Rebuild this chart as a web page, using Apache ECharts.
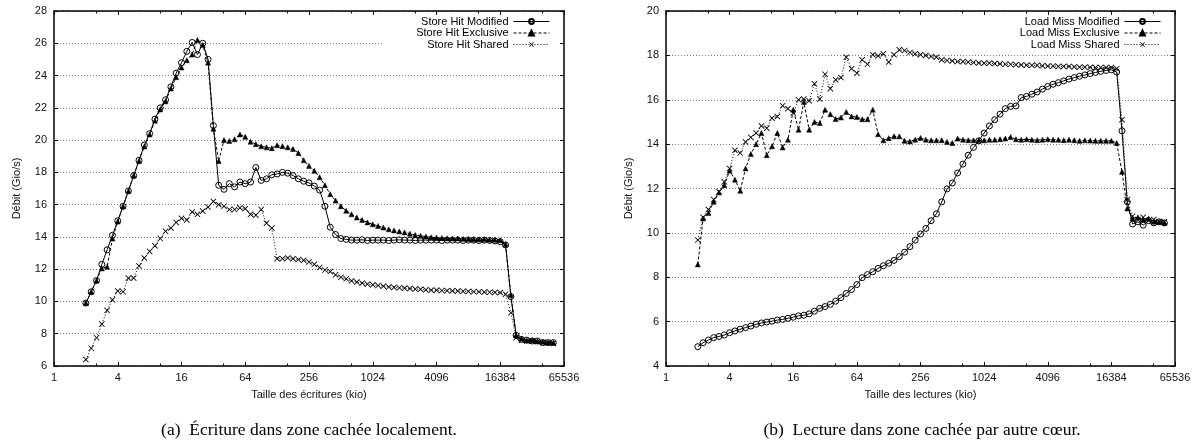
<!DOCTYPE html>
<html><head><meta charset="utf-8">
<script src="https://cdn.jsdelivr.net/npm/echarts@6/dist/echarts.min.js"></script>
<style>html,body{margin:0;padding:0;background:#fff}#c{width:1198px;height:445px}</style>
</head><body><div id="c"></div>
<script>
// Transfer sizes (kio)
const sizesKio = [2,2.245,2.520,2.828,3.175,3.564,4,4.490,5.040,5.657,
6.350,7.127,8,8.980,10.08,11.31,12.70,14.25,16,17.96,
20.16,22.63,25.40,28.51,32,35.92,40.32,45.25,50.80,57.02,
64,71.84,80.63,90.51,101.6,114.0,128,143.7,161.3,181.0,
203.2,228.1,256,287.4,322.5,362.0,406.4,456.1,512,574.7,
645.1,724.1,812.7,912.3,1024,1149,1290,1448,1625,1825,
2048,2299,2580,2896,3251,3649,4096,4598,5161,5793,
6502,7298,8192,9195,10321,11585,13004,14596,16384,18390,
20643,23170,26008,29193,32768,36781,41285,46341,52016];

// (a) writes
const storeHitModified = [9.9,10.6,11.3,12.3,13.2,14.1,15.0,15.9,16.85,17.8,
18.75,19.7,20.4,21.3,22.0,22.5,23.3,24.15,24.8,25.5,
26.05,25.3,26.0,25.0,20.9,17.2,16.95,17.3,17.1,17.4,
17.3,17.4,18.3,17.5,17.6,17.85,17.9,18.0,17.95,17.8,
17.6,17.45,17.35,17.15,16.9,15.9,14.6,14.15,13.9,13.85,
13.8,13.8,13.82,13.78,13.8,13.8,13.8,13.78,13.8,13.82,
13.8,13.8,13.78,13.8,13.8,13.8,13.8,13.78,13.8,13.8,
13.8,13.78,13.8,13.8,13.78,13.8,13.78,13.75,13.7,13.5,
10.3,7.9,7.65,7.6,7.55,7.55,7.45,7.45,7.45];
const storeHitExclusive = [9.9,10.6,11.3,12.05,12.15,13.9,14.95,15.9,16.85,17.8,
18.7,19.6,20.35,21.2,21.9,22.4,23.2,23.9,24.5,24.95,
25.3,26.2,25.9,24.8,20.7,18.7,20.0,19.95,20.05,20.35,
20.2,19.9,19.75,19.62,19.55,19.5,19.68,19.62,19.55,19.45,
19.2,18.75,18.4,18.1,17.7,17.2,16.65,16.25,15.9,15.62,
15.4,15.2,15.05,14.9,14.78,14.68,14.58,14.47,14.4,14.34,
14.28,14.2,14.12,14.07,14.02,13.98,13.95,13.93,13.91,13.9,
13.9,13.88,13.87,13.85,13.85,13.85,13.83,13.82,13.8,13.55,
10.4,7.9,7.7,7.6,7.6,7.55,7.5,7.45,7.45];
const storeHitShared = [6.4,7.1,7.75,8.6,9.45,10.1,10.65,10.6,11.45,11.45,
12.2,12.7,13.1,13.45,13.9,14.35,14.55,14.9,15.15,15.05,
15.55,15.4,15.6,15.85,16.2,16.0,15.9,15.7,15.7,15.8,
15.75,15.4,15.35,15.7,14.85,14.55,12.65,12.65,12.7,12.65,
12.6,12.55,12.45,12.3,12.1,11.95,11.85,11.65,11.5,11.4,
11.28,11.2,11.13,11.07,11.03,10.99,10.95,10.9,10.87,10.85,
10.82,10.8,10.77,10.75,10.72,10.7,10.7,10.68,10.67,10.66,
10.65,10.63,10.62,10.6,10.6,10.58,10.57,10.56,10.55,10.45,
9.3,7.75,7.6,7.55,7.55,7.5,7.45,7.45,7.4];

// (b) reads
const loadMissModified = [4.87,5.05,5.17,5.28,5.33,5.4,5.5,5.58,5.66,5.73,
5.8,5.88,5.94,5.98,6.02,6.07,6.1,6.15,6.2,6.26,
6.29,6.35,6.47,6.6,6.68,6.78,6.92,7.08,7.27,7.45,
7.67,7.98,8.12,8.25,8.4,8.52,8.63,8.76,8.93,9.13,
9.38,9.67,9.95,10.2,10.55,10.86,11.4,11.98,12.25,12.7,
13.1,13.5,13.85,14.15,14.5,14.82,15.1,15.35,15.6,15.7,
15.72,16.1,16.15,16.25,16.35,16.48,16.6,16.7,16.77,16.85,
16.93,17.0,17.06,17.12,17.18,17.23,17.28,17.32,17.35,17.25,
14.6,11.4,10.4,10.5,10.35,10.55,10.45,10.5,10.45];
const loadMissExclusive = [8.58,10.65,10.9,11.4,11.82,12.15,12.8,12.4,11.9,12.9,
13.55,14.0,14.5,13.5,13.9,14.5,13.85,14.2,15.55,14.65,
15.9,14.65,15.0,14.95,15.55,15.35,15.13,15.2,15.45,15.25,
15.22,15.12,15.12,15.55,14.45,14.17,14.27,14.35,14.35,14.15,
14.12,14.2,14.28,14.2,14.17,14.17,14.18,14.1,14.05,14.25,
14.2,14.18,14.17,14.17,14.17,14.2,14.2,14.22,14.25,14.32,
14.22,14.2,14.22,14.2,14.18,14.2,14.22,14.2,14.2,14.18,
14.2,14.18,14.15,14.17,14.16,14.15,14.15,14.15,14.15,14.05,
12.75,11.1,10.65,10.7,10.6,10.65,10.5,10.5,10.45];
const loadMissShared = [9.68,10.7,11.05,11.5,11.85,12.3,12.9,13.72,13.6,14.1,
14.3,14.5,14.82,14.72,15.17,15.24,15.73,15.6,15.4,16.0,
16.03,15.95,16.72,16.03,17.15,16.5,16.9,17.0,17.92,17.4,
17.2,17.8,17.6,18.03,17.98,18.07,17.7,18.03,18.25,18.22,
18.13,18.07,18.03,18.0,17.95,17.92,17.8,17.77,17.75,17.72,
17.72,17.7,17.68,17.66,17.65,17.65,17.63,17.62,17.6,17.6,
17.58,17.57,17.56,17.55,17.55,17.53,17.52,17.52,17.5,17.5,
17.5,17.48,17.47,17.47,17.46,17.45,17.45,17.45,17.45,17.4,
15.1,11.5,10.75,10.6,10.7,10.55,10.6,10.5,10.5];

const xTicks = [1,4,16,64,256,1024,4096,16384,65536];
const yTicksA = [6,28];   // min / max of (a)
const yTicksB = [4,20];   // min / max of (b)
const yStep = 2;

const SANS = '"Liberation Sans", Arial, sans-serif';
const SERIF = '"Liberation Serif", "DejaVu Serif", serif';
const CROSS = 'path://M0,1L1,0L5,4L9,0L10,1L6,5L10,9L9,10L5,6L1,10L0,9L4,5Z';

function pts(vals){ return sizesKio.map((x,i)=>[x, vals[i]]); }
function mk(name, vals, gi, kind){
  const s = {name, type:'line', xAxisIndex: gi*2, yAxisIndex: gi*2, data: pts(vals),
    showAllSymbol: true, animation:false, symbolSize: 6,
    lineStyle:{color:'#000', width:1}, emphasis:{disabled:true}};
  if(kind==='m'){ s.symbol='circle'; s.itemStyle={color:'rgba(255,255,255,0)', borderColor:'#000', borderWidth:1}; s.lineStyle.type='solid'; }
  if(kind==='e'){ s.symbol='triangle'; s.symbolSize=5; s.itemStyle={color:'#000', borderColor:'#000', borderWidth:0.5}; s.lineStyle.type=[3,2]; }
  if(kind==='s'){ s.symbol=CROSS; s.symbolSize=6; s.itemStyle={color:'#000'}; s.lineStyle.type=[1,2]; }
  return s;
}
function xAx(gi, pos, labels, name){
  return {type:'log', logBase:4, gridIndex:gi, position:pos, min:xTicks[0], max:xTicks[xTicks.length-1], interval:1,
    axisLine:{show:true, onZero:false, lineStyle:{color:'#000', width:1.5}},
    axisTick:{show:true, inside:true, length:4, lineStyle:{color:'#000', width:1}},
    minorTick:{show:true, splitNumber:2, length:2.5, lineStyle:{color:'#000', width:1}},
    axisLabel:{show:labels, showMinLabel:true, showMaxLabel:true, margin:6, fontFamily:SANS, fontSize:11, color:'#111',
      formatter: v => String(Math.round(v))},
    splitLine:{show:false}, minorSplitLine:{show:false},
    name: name||'', nameLocation:'middle', nameGap:23,
    nameTextStyle:{fontFamily:SANS, fontSize:11, color:'#111'}};
}
function yAx(gi, pos, ext, labels, name){
  return {type:'value', gridIndex:gi, position:pos, min:ext[0], max:ext[1], interval:yStep,
    axisLine:{show:true, onZero:false, lineStyle:{color:'#000', width:1.5}},
    axisTick:{show:true, inside:true, length:4, lineStyle:{color:'#000', width:1}},
    axisLabel:{show:labels, margin:7, fontFamily:SANS, fontSize:11, color:'#111'},
    splitLine:{show:labels, lineStyle:{color:'#777', width:1, type:[1,2]}},
    name: name||'', nameLocation:'middle', nameGap:32,
    nameTextStyle:{fontFamily:SANS, fontSize:11, color:'#111'}};
}
function legend(names, right){
  return {data:names, orient:'vertical', align:'right', right:right, top:16, padding:0,
    itemWidth:36, itemHeight:6, itemGap:0.5,
    lineStyle:{width:1},
    textStyle:{fontFamily:SANS, fontSize:11, color:'#000', lineHeight:11}, selectedMode:false};
}

const chart = echarts.init(document.getElementById('c'), null, {renderer:'canvas'});
chart.setOption({
  animation:false,
  backgroundColor:'#fff',
  grid:[{left:54, top:11, width:510, height:355},{left:666, top:11, width:509, height:355}],
  xAxis:[xAx(0,'bottom',true,'Taille des écritures (kio)'), xAx(0,'top',false),
         xAx(1,'bottom',true,'Taille des lectures (kio)'), xAx(1,'top',false)],
  yAxis:[yAx(0,'left',yTicksA,true,'Débit (Gio/s)'), yAx(0,'right',yTicksA,false),
         yAx(1,'left',yTicksB,true,'Débit (Gio/s)'), yAx(1,'right',yTicksB,false)],
  legend:[legend(['Store Hit Modified','Store Hit Exclusive','Store Hit Shared'], 648),
          legend(['Load Miss Modified','Load Miss Exclusive','Load Miss Shared'], 37)],
  graphic:[
    {type:'rect', z:1, shape:{x:383, y:15, width:176, height:34}, style:{fill:'#fff'}},
    {type:'text', x:309, y:430, style:{text:'(a)  Écriture dans zone cachée localement.', font:'17.5px '+SERIF, fill:'#000', textAlign:'center', textVerticalAlign:'middle'}},
    {type:'text', x:922, y:430, style:{text:'(b)  Lecture dans zone cachée par autre cœur.', font:'17.5px '+SERIF, fill:'#000', textAlign:'center', textVerticalAlign:'middle'}}
  ],
  series:[
    mk('Store Hit Modified', storeHitModified, 0, 'm'),
    mk('Store Hit Exclusive', storeHitExclusive, 0, 'e'),
    mk('Store Hit Shared', storeHitShared, 0, 's'),
    mk('Load Miss Modified', loadMissModified, 1, 'm'),
    mk('Load Miss Exclusive', loadMissExclusive, 1, 'e'),
    mk('Load Miss Shared', loadMissShared, 1, 's')
  ]
});
</script></body></html>
